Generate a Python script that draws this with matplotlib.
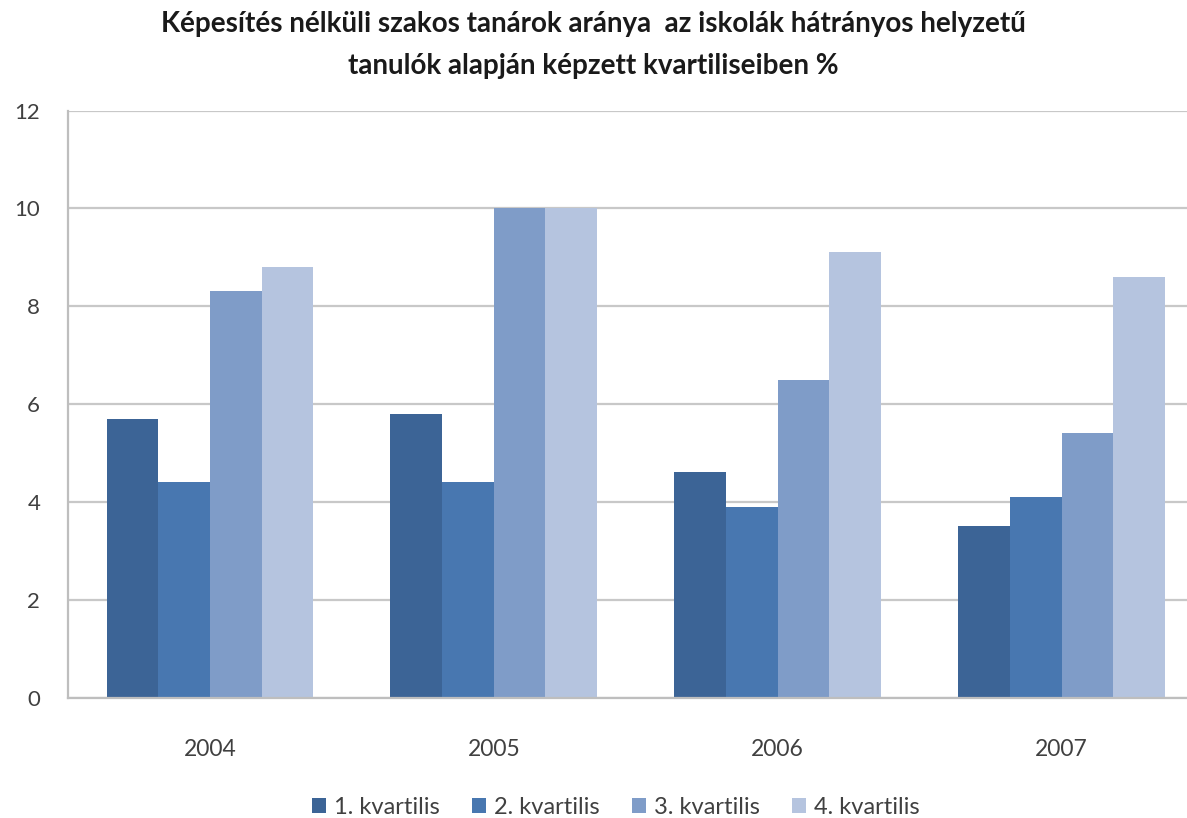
import numpy as np
import matplotlib
matplotlib.use('Agg')
import matplotlib.pyplot as plt

# data
years = ['2004', '2005', '2006', '2007']
series_names = ['1. kvartilis', '2. kvartilis', '3. kvartilis', '4. kvartilis']
q1 = [5.7, 5.8, 4.6, 3.5]
q2 = [4.4, 4.4, 3.9, 4.1]
q3 = [8.3, 10.0, 6.5, 5.4]
q4 = [8.8, 10.0, 9.1, 8.6]
colors = ['#3C6496', '#4877B0', '#7F9CC8', '#B5C4DF']

plt.rcParams['font.family'] = ['Lato', 'DejaVu Sans']

fig = plt.figure(figsize=(11.87, 8.18), dpi=100)
# the plot area runs past the right edge, as in the cropped original
ax = fig.add_axes([68 / 1187, 120.5 / 818, 1135.5 / 1187, 587 / 818])

x = np.arange(len(years))
width = 0.182
for i, (vals, name) in enumerate(zip([q1, q2, q3, q4], series_names)):
    ax.bar(x + (i - 1.5) * width, vals, width, color=colors[i], label=name,
           zorder=3, linewidth=0)

ax.set_xlim(-0.5, 3.5)
ax.set_ylim(0, 12)
ax.set_yticks(range(0, 13, 2))
ax.set_xticks(x)
ax.set_xticklabels(years)

ax.grid(axis='y', color='#C8C8C8', linewidth=1.6, zorder=0)
ax.set_axisbelow(True)
for side in ['top', 'right']:
    ax.spines[side].set_visible(False)
ax.spines['left'].set_color('#BEBEBE')
ax.spines['left'].set_linewidth(1.6)
ax.spines['bottom'].set_color('#BEBEBE')
ax.spines['bottom'].set_linewidth(1.6)
ax.spines['bottom'].set_zorder(4)

ax.tick_params(axis='y', length=0, pad=20, labelsize=16, labelcolor='#404040')
ax.tick_params(axis='x', length=0, pad=30, labelsize=16.5, labelcolor='#404040')

fig.text(0.5, 0.986,
         'Képesítés nélküli szakos tanárok aránya  az iskolák hátrányos helyzetű\n'
         'tanulók alapján képzett kvartiliseiben %',
         ha='center', va='top', fontsize=20, fontweight='bold',
         linespacing=1.75, color='#1a1a1a')

leg = fig.legend(loc='center', bbox_to_anchor=(616 / 1187, 11 / 818), ncol=4,
                 frameon=False, fontsize=17, handlelength=0.6, handleheight=0.6,
                 handletextpad=0.35, columnspacing=1.35, labelcolor='#404040')

fig.savefig('out.png', dpi=100)
